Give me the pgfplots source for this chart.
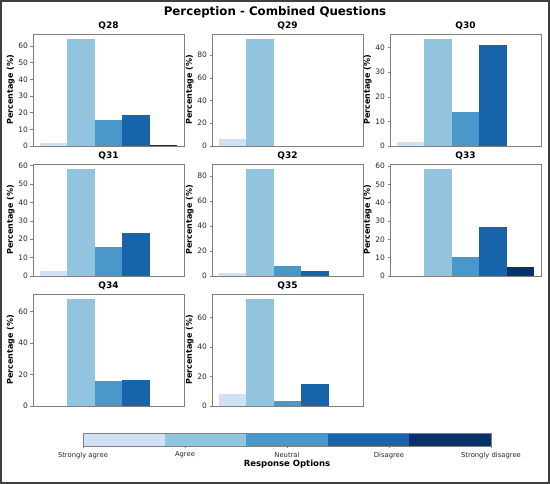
\documentclass[border=0pt]{standalone}
\usepackage{pgfplots}
\pgfplotsset{compat=1.18}
\usepackage{fontspec}
\setmainfont{DejaVu Sans}
\definecolor{cSA}{HTML}{CFE1F2}
\definecolor{cA}{HTML}{93C4DE}
\definecolor{cN}{HTML}{4A98C9}
\definecolor{cD}{HTML}{1764AB}
\definecolor{cSD}{HTML}{08306B}
\definecolor{spine}{HTML}{7F7F7F}
\definecolor{txt}{HTML}{262626}
\pgfplotsset{
  panel/.style={
    scale only axis, width=151pt, height=112pt, anchor=south west,
    xmin=-0.75, xmax=4.75, xtick=\empty, ymin=0,
    axis line style={spine, line width=0.8pt},
    ytick pos=left, tick align=outside, major tick length=2.5pt,
    y tick style={spine, line width=0.5pt},
    /pgf/number format/assume math mode=true,
    yticklabel style={font=\fontsize{7.5}{8}\selectfont, text=txt, xshift=1pt},
    ylabel={\textbf{Percentage (\%)}},
    ylabel style={font=\fontsize{8}{9}\selectfont, yshift=-3pt},
    title style={font=\fontsize{9}{10}\selectfont\bfseries, yshift=-5pt},
    clip=false,
  },
  bb/.style={ybar, bar width=1, bar shift=0pt, draw=none, fill=#1},
}
\begin{document}
\begin{tikzpicture}
\useasboundingbox (0,0) rectangle (550pt,484pt);
\node[font=\fontsize{11.8}{13}\selectfont\bfseries] at (275pt,471.5pt) {Perception - Combined Questions};
% Q28
\begin{axis}[panel, at={(33pt,338pt)}, title={Q28}, ymax=67.2, ytick={0,10,20,30,40,50,60}]
\addplot[bb=cSA] coordinates {(0,1.6)};
\addplot[bb=cA] coordinates {(1,63.9)};
\addplot[bb=cN] coordinates {(2,15.5)};
\addplot[bb=cD] coordinates {(3,18.3)};
\addplot[bb=cSD] coordinates {(4,0.7)};
\end{axis}
% Q29
\begin{axis}[panel, at={(212pt,338pt)}, title={Q29}, ymax=98.5, ytick={0,20,40,60,80}]
\addplot[bb=cSA] coordinates {(0,6.2)};
\addplot[bb=cA] coordinates {(1,93.8)};
\end{axis}
% Q30
\begin{axis}[panel, at={(390pt,338pt)}, title={Q30}, ymax=45.5, ytick={0,10,20,30,40}]
\addplot[bb=cSA] coordinates {(0,1.6)};
\addplot[bb=cA] coordinates {(1,43.3)};
\addplot[bb=cN] coordinates {(2,13.8)};
\addplot[bb=cD] coordinates {(3,41.2)};
\end{axis}
% Q31
\begin{axis}[panel, at={(33pt,208pt)}, title={Q31}, ymax=60.9, ytick={0,10,20,30,40,50,60}]
\addplot[bb=cSA] coordinates {(0,2.7)};
\addplot[bb=cA] coordinates {(1,58.1)};
\addplot[bb=cN] coordinates {(2,15.8)};
\addplot[bb=cD] coordinates {(3,23.4)};
\end{axis}
% Q32
\begin{axis}[panel, at={(212pt,208pt)}, title={Q32}, ymax=89.6, ytick={0,20,40,60,80}]
\addplot[bb=cSA] coordinates {(0,2.0)};
\addplot[bb=cA] coordinates {(1,85.3)};
\addplot[bb=cN] coordinates {(2,8.0)};
\addplot[bb=cD] coordinates {(3,4.0)};
\end{axis}
% Q33
\begin{axis}[panel, at={(390pt,208pt)}, title={Q33}, ymax=61.1, ytick={0,10,20,30,40,50,60}]
\addplot[bb=cA] coordinates {(1,58.2)};
\addplot[bb=cN] coordinates {(2,10.4)};
\addplot[bb=cD] coordinates {(3,26.7)};
\addplot[bb=cSD] coordinates {(4,4.7)};
\end{axis}
% Q34
\begin{axis}[panel, at={(33pt,78pt)}, title={Q34}, ymax=71.2, ytick={0,20,40,60}]
\addplot[bb=cA] coordinates {(1,67.8)};
\addplot[bb=cN] coordinates {(2,15.6)};
\addplot[bb=cD] coordinates {(3,16.6)};
\end{axis}
% Q35
\begin{axis}[panel, at={(212pt,78pt)}, title={Q35}, ymax=75.9, ytick={0,20,40,60}]
\addplot[bb=cSA] coordinates {(0,8.0)};
\addplot[bb=cA] coordinates {(1,72.3)};
\addplot[bb=cN] coordinates {(2,3.7)};
\addplot[bb=cD] coordinates {(3,15.0)};
\end{axis}
% colour bar
\begin{axis}[scale only axis, width=408pt, height=13pt, anchor=south west, at={(83pt,38pt)},
  xmin=0, xmax=5, ymin=0, ymax=1, ytick=\empty,
  xtick={0,1.25,2.5,3.75,5},
  xticklabels={Strongly agree,Agree,Neutral,Disagree,Strongly disagree},
  xtick pos=bottom, tick align=outside, major tick length=2.5pt,
  x tick style={spine, line width=0.5pt},
  axis line style={spine, line width=0.8pt},
  xticklabel style={font=\fontsize{6.8}{7}\selectfont, text=txt},
  xlabel={\textbf{Response Options}},
  xlabel style={font=\fontsize{8.5}{9}\selectfont, yshift=5pt},
  axis on top]
\addplot[fill=cSA, draw=none] coordinates {(0,1) (1,1)} \closedcycle;
\addplot[fill=cA, draw=none] coordinates {(1,1) (2,1)} \closedcycle;
\addplot[fill=cN, draw=none] coordinates {(2,1) (3,1)} \closedcycle;
\addplot[fill=cD, draw=none] coordinates {(3,1) (4,1)} \closedcycle;
\addplot[fill=cSD, draw=none] coordinates {(4,1) (5,1)} \closedcycle;
\end{axis}
\draw[line width=1.6pt, color=black!75] (1pt,1pt) rectangle (549pt,483pt);
\end{tikzpicture}
\end{document}
